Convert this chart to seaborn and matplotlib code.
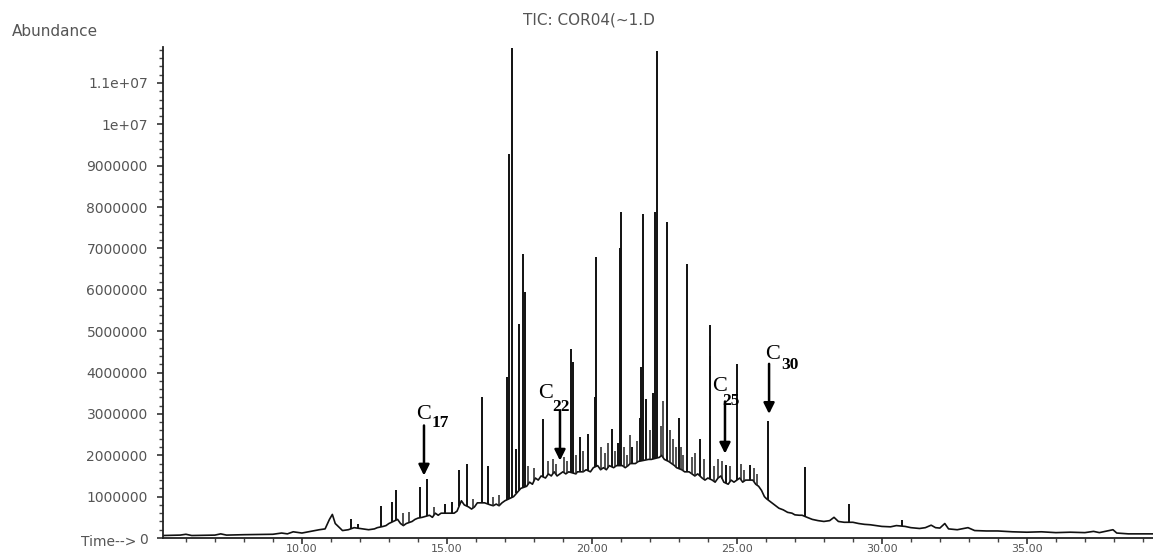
import numpy as np
import pandas as pd
import matplotlib
matplotlib.use("Agg")
import matplotlib.pyplot as plt
import seaborn as sns

# ---------------- data (retention time in min, abundance in 1e6 counts) ----------------
base_time = [5.2, 5.8, 6.0, 6.2, 7.0, 7.2, 7.4, 8.0, 9.0, 9.3, 9.5, 9.7, 10.0, 10.3, 10.6, 10.8,
             10.95, 11.05, 11.15, 11.4, 11.6, 11.8, 12.1, 12.3, 12.5, 12.6, 12.8, 12.9, 13.0, 13.3, 13.4, 13.5,
             13.6, 13.8, 13.9, 14.0, 14.15, 14.4, 14.5, 14.6, 14.7, 14.8, 15.0, 15.25, 15.35,
             15.5, 15.6, 15.75, 15.85, 15.95, 16.05, 16.3, 16.5, 16.6, 16.7, 16.8, 16.9, 17.0,
             17.3, 17.55, 17.75, 17.85, 17.95, 18.05, 18.15, 18.25, 18.4, 18.5, 18.6, 18.7, 18.8,
             18.9, 19.0, 19.1, 19.2, 19.45, 19.5, 19.7, 19.8, 19.95, 20.05, 20.2, 20.3, 20.4,
             20.5, 20.6, 20.75, 20.85, 21.05, 21.15, 21.25, 21.32, 21.5, 21.6, 21.95, 22.05,
             22.33, 22.4, 22.5, 22.65, 22.75, 22.85, 22.92, 23.1, 23.2, 23.35, 23.45, 23.55,
             23.65, 23.8, 23.9, 24.0, 24.15, 24.25, 24.35, 24.45, 24.55, 24.7, 24.8, 24.9, 25.1,
             25.2, 25.3, 25.55, 25.65, 25.75, 25.85, 25.95, 26.02, 26.15, 26.3, 26.45, 26.6,
             26.75, 26.9, 27.0, 27.15, 27.25, 27.42, 27.6, 27.8, 28.0, 28.2, 28.35, 28.5, 28.7,
             29.0, 29.2, 29.4, 29.6, 29.8, 30.0, 30.3, 30.5, 30.8, 31.0, 31.3, 31.5, 31.7, 31.85,
             32.0, 32.17, 32.3, 32.6, 32.97, 33.2, 33.6, 34.0, 34.5, 35.0, 35.5, 36.0, 36.5,
             37.0, 37.3, 37.5, 37.97, 38.1, 38.5, 39.35]
base_abund = [0.06, 0.07, 0.09, 0.06, 0.07, 0.10, 0.07, 0.08, 0.09, 0.12, 0.10, 0.15, 0.12, 0.16,
              0.20, 0.22, 0.45, 0.57, 0.35, 0.18, 0.20, 0.25, 0.22, 0.20, 0.22, 0.25, 0.28, 0.30, 0.35, 0.45,
              0.35, 0.30, 0.35, 0.40, 0.45, 0.48, 0.50, 0.55, 0.50, 0.60, 0.55, 0.60, 0.60, 0.60,
              0.65, 0.90, 0.80, 0.75, 0.70, 0.75, 0.85, 0.85, 0.80, 0.78, 0.82, 0.78, 0.85, 0.90,
              1.00, 1.20, 1.25, 1.35, 1.30, 1.45, 1.40, 1.50, 1.45, 1.55, 1.50, 1.60, 1.50, 1.55,
              1.60, 1.55, 1.60, 1.55, 1.60, 1.60, 1.65, 1.60, 1.70, 1.75, 1.65, 1.70, 1.65, 1.75,
              1.70, 1.75, 1.75, 1.70, 1.75, 1.80, 1.80, 1.85, 1.90, 1.90, 1.95, 2.00, 1.90, 1.85,
              1.80, 1.75, 1.70, 1.65, 1.60, 1.60, 1.55, 1.50, 1.55, 1.45, 1.40, 1.45, 1.40, 1.35,
              1.45, 1.50, 1.35, 1.30, 1.40, 1.35, 1.45, 1.35, 1.40, 1.40, 1.30, 1.25, 1.15, 1.00,
              0.95, 0.88, 0.80, 0.72, 0.68, 0.62, 0.60, 0.56, 0.55, 0.55, 0.50, 0.45, 0.42, 0.40,
              0.42, 0.50, 0.40, 0.38, 0.38, 0.35, 0.33, 0.32, 0.30, 0.28, 0.27, 0.30, 0.28, 0.25,
              0.23, 0.25, 0.31, 0.25, 0.24, 0.35, 0.22, 0.20, 0.25, 0.18, 0.17, 0.17, 0.15, 0.14,
              0.15, 0.13, 0.14, 0.13, 0.16, 0.13, 0.20, 0.12, 0.10, 0.10]

# main resolved peaks
peak_time = [11.71, 11.93, 12.72, 13.11, 13.24, 14.07, 14.30, 14.93, 15.16, 15.42, 15.69,
             16.20, 16.42, 17.09, 17.15, 17.23, 17.40, 17.49, 17.63, 17.69, 18.32, 19.27, 19.36,
             19.59, 19.88, 20.10, 20.14, 20.68, 20.90, 20.96, 20.99, 21.40, 21.66, 21.71, 21.77,
             21.87, 22.10, 22.17, 22.25, 22.59, 23.00, 23.29, 23.72, 24.06, 24.09, 24.64, 25.01,
             25.45, 26.08, 27.34, 28.86, 30.68]
peak_abund = [0.47, 0.35, 0.77, 0.86, 1.15, 1.24, 1.43, 0.83, 0.87, 1.65, 1.80,
              3.41, 1.75, 3.90, 9.28, 11.85, 2.15, 5.18, 6.87, 5.95, 2.88, 4.57, 4.26,
              2.45, 2.52, 3.40, 6.80, 2.64, 2.30, 7.00, 7.88, 2.20, 2.90, 4.14, 7.84,
              3.37, 3.50, 7.88, 11.78, 7.64, 2.90, 6.63, 2.40, 4.40, 5.15, 1.76, 4.21,
              1.76, 2.84, 1.72, 0.83, 0.43]

# small unresolved peaks riding on the hump
minor_time = [13.5, 13.7, 14.55, 15.9, 16.6, 16.8, 17.8, 18.0, 18.5, 18.65, 18.75, 19.05,
              19.15, 19.45, 19.7, 20.3, 20.45, 20.55, 20.8, 21.1, 21.2, 21.3, 21.55, 22.0,
              22.4, 22.45, 22.7, 22.8, 22.9, 23.08, 23.15, 23.45, 23.55, 23.85, 24.2, 24.35,
              24.5, 24.75, 25.15, 25.25, 25.6, 25.7]
minor_abund = [0.6, 0.62, 0.75, 0.95, 1.0, 1.05, 1.75, 1.7, 1.85, 1.9, 1.8, 1.95,
               1.85, 2.0, 2.1, 2.2, 2.05, 2.3, 2.1, 2.2, 2.0, 2.5, 2.35, 2.6,
               2.7, 3.3, 2.6, 2.4, 2.2, 2.2, 2.0, 1.95, 2.05, 1.9, 1.75, 1.9,
               1.85, 1.75, 1.8, 1.65, 1.7, 1.55]

ytick_values = [0, 1, 2, 3, 4, 5, 6, 7, 8, 9, 10, 11]
ytick_labels = ["0", "1000000", "2000000", "3000000", "4000000", "5000000", "6000000",
                "7000000", "8000000", "9000000", "1e+07", "1.1e+07"]
xtick_values = [10, 15, 20, 25, 30, 35]
xtick_labels = ["10.00", "15.00", "20.00", "25.00", "30.00", "35.00"]

mark_labels = ["17", "22", "25", "30"]
mark_time = [14.21, 18.90, 24.59, 26.11]
mark_tail = [2.72, 3.06, 3.30, 4.21]
mark_tip = [1.51, 1.87, 2.04, 3.00]

title_text = "TIC: COR04(~1.D"
ylabel_text = "Abundance"
xlabel_text = "Time-->"

SCALE = 1e6

# ---------------- layout / style ----------------
c_offsets = [(-8, 6), (-22, 13), (-13, 10), (-4, 5)]
sub_offsets = [(8, -2), (-8, 0), (-3, -4), (12, -5)]

sns.set_theme(style="white")
plt.rcParams["font.family"] = ["DejaVu Sans"]

fig = plt.figure(figsize=(11.53, 5.56), dpi=100)
Y0, Y1 = 538.0, 47.0
ax = fig.add_axes([163 / 1153, 1 - Y0 / 556, 1 - 163 / 1153, (Y0 - Y1) / 556])

df = pd.DataFrame({"time": base_time, "abund": [v * SCALE for v in base_abund]})
sns.lineplot(data=df, x="time", y="abund", estimator=None, sort=True,
             color="#111111", linewidth=1.2, ax=ax)

# spikes rise from the hump at their own retention time
peak_base = np.interp(peak_time, base_time, base_abund)
ax.vlines(peak_time, peak_base * SCALE, np.array(peak_abund) * SCALE,
          color="#111111", linewidth=1.4)
minor_base = np.interp(minor_time, base_time, base_abund)
ax.vlines(minor_time, minor_base * SCALE, np.array(minor_abund) * SCALE,
          color="#222222", linewidth=1.1)

ax.set_xlim(5.21, 39.35)
ax.set_ylim(0, 11.87 * SCALE)

ax.set_yticks([v * SCALE for v in ytick_values])
ax.set_yticklabels(ytick_labels)
ax.set_yticks(np.arange(0, 11.87, 0.2) * SCALE, minor=True)
ax.set_xticks(xtick_values)
ax.set_xticklabels(xtick_labels)
ax.set_xticks(np.arange(6, 40, 1.0), minor=True)

ax.set_xlabel("")
ax.set_ylabel("")
for side in ["top", "right"]:
    ax.spines[side].set_visible(False)
for side in ["left", "bottom"]:
    ax.spines[side].set_color("#222222")
    ax.spines[side].set_linewidth(1.3)

ax.tick_params(axis="both", which="major", direction="out", length=4, width=1.2,
               color="#333333", labelcolor="#555555", left=True, bottom=True)
ax.tick_params(axis="y", which="major", labelsize=10, pad=7)
ax.tick_params(axis="x", which="major", labelsize=8, pad=0.5)
ax.tick_params(axis="both", which="minor", direction="out", length=3, width=1.0,
               color="#444444", left=True, bottom=True)
ax.grid(False)

for lab, t, tail, tip, co, so in zip(mark_labels, mark_time, mark_tail, mark_tip,
                                     c_offsets, sub_offsets):
    ax.annotate("", xy=(t, tip * SCALE), xytext=(t, tail * SCALE),
                arrowprops=dict(arrowstyle="-|>", color="black", lw=1.8,
                                mutation_scale=16, shrinkA=0, shrinkB=0))
    ax.annotate("C", xy=(t, tail * SCALE), xytext=co, textcoords="offset pixels",
                ha="left", va="baseline", fontsize=16, family="Liberation Serif",
                color="black")
    ax.annotate(lab, xy=(t, tail * SCALE), xytext=so, textcoords="offset pixels",
                ha="left", va="baseline", fontsize=12.5, family="Liberation Serif",
                fontweight="bold", color="black")

fig.text(589 / 1153, 1 - 20 / 556, title_text, ha="center", va="center",
         fontsize=11, color="#555555")
fig.text(12 / 1153, 1 - 32 / 556, ylabel_text, ha="left", va="center",
         fontsize=11, color="#555555")
fig.text(136 / 1153, 1 - 542 / 556, xlabel_text, ha="right", va="center",
         fontsize=10, color="#555555")

fig.savefig("out.png", dpi=100, facecolor="white")
